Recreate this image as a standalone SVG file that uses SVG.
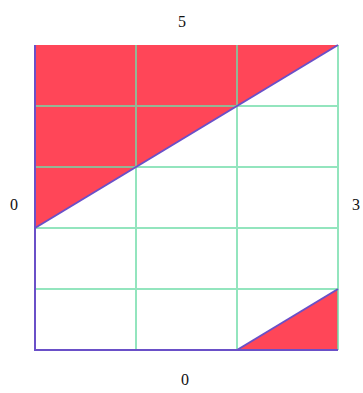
<svg xmlns="http://www.w3.org/2000/svg" width="363" height="393" viewBox="0 0 363 393">
<style>
.fill{fill:#FF4658;stroke:none}
.grid{stroke:#6FDCA8;stroke-width:2;fill:none;stroke-opacity:0.75}
.edge{stroke:#6A50C8;stroke-width:2;fill:none}
.lbl{font-family:"Liberation Serif","Times New Roman",serif;font-size:16px;fill:#111;text-anchor:middle}
</style>
<rect x="0" y="0" width="363" height="393" fill="#fff"/>
<g id="regions">
<polygon class="fill" points="35,45 338,45 35,228"/>
<polygon class="fill" points="237,350 338,289 338,350"/>
</g>
<g id="grid">
<path class="grid" d="M136,45V350M237,45V350M338,45V350M35,106H338M35,167H338M35,228H338M35,289H338"/>
</g>
<g id="connectors">
<path class="edge" d="M35,45V350H338"/>
<path class="edge" d="M35,228L338,45"/>
<path class="edge" d="M237,350L338,289"/>
</g>
<g id="labels">
<text class="lbl" x="182" y="27">5</text>
<text class="lbl" x="14" y="210">0</text>
<text class="lbl" x="356" y="210">3</text>
<text class="lbl" x="185" y="385">0</text>
</g>
</svg>
